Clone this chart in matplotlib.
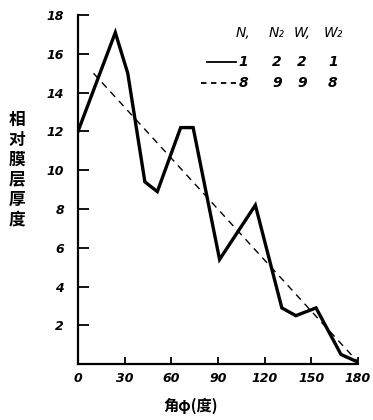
import matplotlib
matplotlib.use('Agg')
import matplotlib.pyplot as plt

plt.rcParams['font.family'] = ['DejaVu Sans']

# solid curve (N1 N2 W1 W2 = 1 2 2 1)
phi_solid = [0, 24, 32, 43, 51, 66, 74, 91, 114, 131, 140, 153, 169, 180]
t_solid = [12.0, 17.1, 15.0, 9.4, 8.9, 12.2, 12.2, 5.4, 8.2, 2.9, 2.5, 2.9, 0.5, 0.1]

# dashed curve (8 9 9 8)
phi_dash = [10, 180]
t_dash = [15.0, 0.1]

xticks = [0, 30, 60, 90, 120, 150, 180]
yticks = [2, 4, 6, 8, 10, 12, 14, 16, 18]

legend_head = ['N,', 'N₂', 'W,', 'W₂']
legend_solid = ['1', '2', '2', '1']
legend_dash = ['8', '9', '9', '8']

fig = plt.figure(figsize=(3.73, 4.2), dpi=100)
ax = fig.add_axes([0.209, 0.133, 0.751, 0.831])

ax.plot(phi_solid, t_solid, color='black', lw=2.4, solid_joinstyle='miter')
ax.plot(phi_dash, t_dash, color='black', lw=1.0, dashes=(5, 4))

ax.set_xlim(0, 180)
ax.set_ylim(0, 18)
ax.spines['top'].set_visible(False)
ax.spines['right'].set_visible(False)
for s in ['left', 'bottom']:
    ax.spines[s].set_linewidth(1.6)

tick_font = dict(fontsize=9, fontweight='bold', fontstyle='italic')
ax.set_xticks(xticks)
ax.set_xticklabels([str(v) for v in xticks], **tick_font)
ax.set_yticks(yticks)
ax.set_yticklabels([str(v) for v in yticks], **tick_font)
ax.tick_params(axis='y', direction='in', length=8, width=1.3, pad=10)
ax.tick_params(axis='x', direction='in', length=5, width=1.3, pad=6)

# hand-written style legend table in the upper right
cols = [0.59, 0.71, 0.80, 0.91]
rows = [0.948, 0.865, 0.805]
for c, h in zip(cols, legend_head):
    ax.text(c, rows[0], h, transform=ax.transAxes, ha='center', va='center',
            fontsize=10, fontstyle='italic')
for c, a, b in zip(cols, legend_solid, legend_dash):
    ax.text(c, rows[1], a, transform=ax.transAxes, ha='center', va='center',
            fontsize=10, fontstyle='italic', fontweight='bold')
    ax.text(c, rows[2], b, transform=ax.transAxes, ha='center', va='center',
            fontsize=10, fontstyle='italic', fontweight='bold')
ax.plot([0.46, 0.565], [rows[1], rows[1]], transform=ax.transAxes,
        color='black', lw=1.3, clip_on=False)
ax.plot([0.44, 0.565], [rows[2], rows[2]], transform=ax.transAxes,
        color='black', lw=1.3, dashes=(3, 2.5), clip_on=False)

fig.text(0.045, 0.455, '\n'.join('相对膜层厚度'), ha='center', va='bottom',
         fontsize=12, fontweight='bold', family=['Noto Sans CJK SC'],
         linespacing=1.15)
fig.text(0.51, 0.035, '角φ(度)', ha='center', va='center',
         fontsize=11, fontweight='bold', family=['Noto Sans CJK SC', 'DejaVu Sans'])

fig.savefig('out.png', dpi=100)
